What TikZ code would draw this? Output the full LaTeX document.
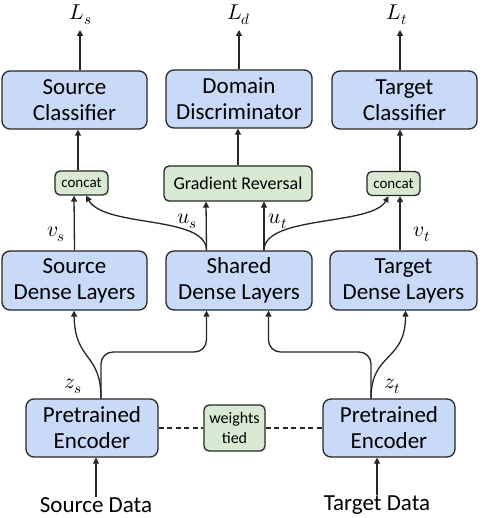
\documentclass[tikz,border=0pt]{standalone}
\usepackage{fontspec}
\usepackage{unicode-math}
\setmainfont{Carlito}
\setmathfont{Latin Modern Math}
\usetikzlibrary{arrows.meta}
\definecolor{boxblue}{RGB}{201,218,248}
\definecolor{boxgreen}{RGB}{217,234,211}
\definecolor{edge}{RGB}{38,38,38}
\begin{document}
\begin{tikzpicture}[x=1pt,y=-1pt,
  bluebox/.style={draw=edge,line width=1.3pt,fill=boxblue,rounded corners=8pt,
    align=center,inner sep=0pt,font=\fontsize{23}{26}\selectfont},
  greenbox/.style={draw=edge,line width=1.3pt,fill=boxgreen,rounded corners=5pt,
    align=center,inner sep=0pt},
  arr/.style={draw=edge,line width=1.3pt,-{Triangle[length=6pt,width=6pt]}},
  tiedline/.style={draw=edge,line width=1.3pt,dash pattern=on 5pt off 3.5pt},
  mlabel/.style={font=\fontsize{21.5}{24}\selectfont,inner sep=0pt},
  datalabel/.style={font=\fontsize{23}{26}\selectfont,inner sep=0pt}]
\useasboundingbox (0,0) rectangle (480,518);
% top row
\node[bluebox,minimum width=145pt,minimum height=58pt] (sc) at (74.5,100) {Source\\Classifier};
\node[bluebox,minimum width=146pt,minimum height=58pt] (dd) at (239,99) {Domain\\Discriminator};
\node[bluebox,minimum width=145pt,minimum height=58pt] (tc) at (404.5,100) {Target\\Classifier};
% loss labels
\node[mlabel] (ls) at (81,15) {$L_s$};
\node[mlabel] (ld) at (239,15) {$L_d$};
\node[mlabel] (lt) at (397,15) {$L_t$};
\coordinate (lsa) at (80,30);
\coordinate (lda) at (239,30);
\coordinate (lta) at (400,30);
% middle small boxes
\node[greenbox,minimum width=53pt,minimum height=24pt,font=\fontsize{15}{17}\selectfont] (cl) at (81.5,183) {concat};
\node[greenbox,minimum width=148pt,minimum height=35pt,font=\fontsize{18}{20}\selectfont] (gr) at (238,183.5) {Gradient Reversal};
\node[greenbox,minimum width=53pt,minimum height=24pt,font=\fontsize{15}{17}\selectfont] (cr) at (393.5,183.5) {concat};
% dense layers
\node[bluebox,minimum width=145pt,minimum height=59pt] (sdl) at (74.5,280.5) {Source\\Dense Layers};
\node[bluebox,minimum width=146pt,minimum height=59pt] (shd) at (239,280.5) {Shared\\Dense Layers};
\node[bluebox,minimum width=147pt,minimum height=59pt] (tdl) at (403.5,280.5) {Target\\Dense Layers};
% encoders
\node[bluebox,minimum width=132pt,minimum height=58pt] (pel) at (92,428) {Pretrained\\Encoder};
\node[bluebox,minimum width=132pt,minimum height=58pt] (per) at (389,428) {Pretrained\\Encoder};
\node[greenbox,minimum width=61pt,minimum height=46pt,font=\fontsize{16}{20}\selectfont] (wt) at (234.5,428) {weights\\tied};
% data
\node[datalabel] (sd) at (96,505) {Source Data};
\node[datalabel] (td) at (377,505) {Target Data};
% variable labels
\node[mlabel] at (56,234) {$v_s$};
\node[mlabel] at (187,221) {$u_s$};
\node[mlabel] at (278,221) {$u_t$};
\node[mlabel] at (422,234) {$v_t$};
\node[mlabel] at (73,386) {$z_s$};
\node[mlabel] at (392,386) {$z_t$};
% arrows to losses
\draw[arr] ([xshift=5.5pt]sc.north) -- (lsa);
\draw[arr] (dd.north) -- (lda);
\draw[arr] ([xshift=-4.5pt]tc.north) -- (lta);
% small boxes to heads
\draw[arr] ([xshift=-3.5pt]cl.north) -- ([xshift=3.5pt]sc.south);
\draw[arr] (gr.north) -- ([xshift=-1pt]dd.south);
\draw[arr] ([xshift=6.5pt]cr.north) -- ([xshift=-4.5pt]tc.south);
% dense to small boxes
\draw[arr] (sdl.north) -- ([xshift=-7.5pt]cl.south);
\draw[arr] ([xshift=-32.5pt]shd.north) -- ([xshift=-32pt]gr.south);
\draw[arr] ([xshift=25pt]shd.north) -- ([xshift=26pt]gr.south);
\draw[arr] ([xshift=-32.5pt]shd.north) .. controls (206.5,215) and (105,228) .. ([xshift=4.5pt]cl.south);
\draw[arr] ([xshift=25pt]shd.north) .. controls (264,215) and (372,226) .. ([xshift=-5pt]cr.south);
\draw[arr] ([xshift=-3.5pt]tdl.north) -- ([xshift=6.5pt]cr.south);
% encoders to dense
\draw[arr] ([xshift=9pt]pel.north) .. controls (101,352) and (75,362) .. ([xshift=-0.5pt]sdl.south);
\draw[arr,rounded corners=12pt] ([xshift=9pt]pel.north) -- (101,352) -- (206.5,352) -- ([xshift=-32.5pt]shd.south);
\draw[arr] ([xshift=-18pt]per.north) .. controls (371,352) and (405.5,362) .. ([xshift=2pt]tdl.south);
\draw[arr,rounded corners=12pt] ([xshift=-18pt]per.north) -- (371,352) -- (268.5,352) -- ([xshift=29.5pt]shd.south);
% data to encoders
\draw[arr] (sd.north) -- ([xshift=4pt]pel.south);
\draw[arr] (td.north) -- ([xshift=-12pt]per.south);
% tied
\draw[tiedline] (pel.east) -- (wt.west);
\draw[tiedline] (wt.east) -- (per.west);
\end{tikzpicture}
\end{document}
